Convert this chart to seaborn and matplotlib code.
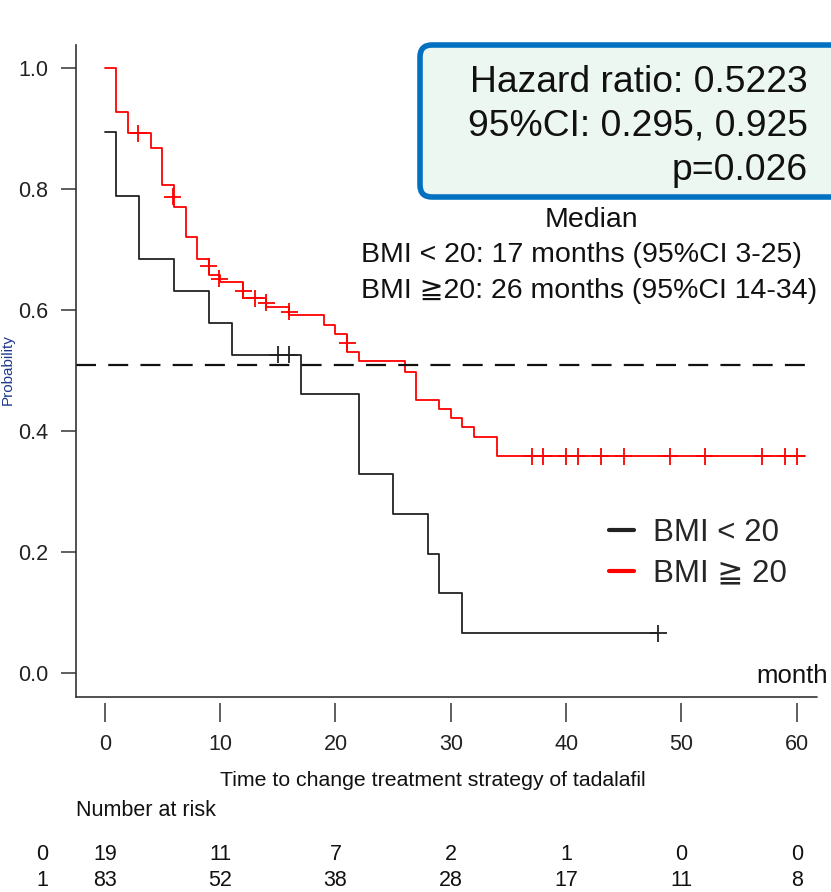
import numpy as np
import pandas as pd
import matplotlib.pyplot as plt
import seaborn as sns
from matplotlib.lines import Line2D
from matplotlib.patches import FancyBboxPatch

# Kaplan-Meier steps
low_time = [0, 1, 3, 6, 9, 11, 17, 22, 25, 28, 29, 31, 48]
low_surv = [0.895, 0.789, 0.684, 0.632, 0.579, 0.526, 0.461, 0.329, 0.263, 0.197, 0.132, 0.066, 0.066]
high_time = [0, 1, 2, 4, 5, 6, 7, 8, 9, 10, 12, 14, 16, 19, 20, 21, 22, 26, 27, 29, 30, 31, 32, 34, 60.7]
high_surv = [1.0, 0.928, 0.892, 0.867, 0.807, 0.771, 0.721, 0.684, 0.658, 0.646, 0.619, 0.605, 0.591,
             0.576, 0.561, 0.531, 0.516, 0.498, 0.452, 0.436, 0.421, 0.406, 0.390, 0.358, 0.358]

# censoring marks
low_cens_t = [15, 16, 48]
low_cens_s = [0.526, 0.526, 0.066]
high_cens_t = [2.9, 5.9, 9, 9.9, 12, 13, 14, 16, 21, 37, 38, 40, 41, 43, 45, 49, 52, 57, 59, 60]
high_cens_s = [0.892, 0.787, 0.672, 0.652, 0.632, 0.619, 0.612, 0.597, 0.545, 0.358, 0.358, 0.358,
               0.358, 0.358, 0.358, 0.358, 0.358, 0.358, 0.358, 0.358]

median_level = 0.509
groups = ['BMI < 20', 'BMI \u2267 20']
colors = {'BMI < 20': '#222222', 'BMI \u2267 20': '#FF0000'}

risk_ticks = [0, 10, 20, 30, 40, 50, 60]
risk_low = [19, 11, 7, 2, 1, 0, 0]
risk_high = [83, 52, 38, 28, 17, 11, 8]

curves = pd.concat([
    pd.DataFrame({'time': low_time, 'surv': low_surv, 'group': groups[0]}),
    pd.DataFrame({'time': high_time, 'surv': high_surv, 'group': groups[1]}),
])
cens = pd.concat([
    pd.DataFrame({'time': low_cens_t, 'surv': low_cens_s, 'group': groups[0]}),
    pd.DataFrame({'time': high_cens_t, 'surv': high_cens_s, 'group': groups[1]}),
])

sns.set_style('ticks')
plt.rcParams['font.family'] = ['Liberation Sans', 'DejaVu Sans', 'Noto Sans CJK JP']

fig = plt.figure(figsize=(8.31, 8.92), dpi=100)
ax = fig.add_axes([76 / 831, 195 / 892, (817 - 76) / 831, (697 - 45) / 892])

sns.lineplot(data=curves, x='time', y='surv', hue='group', palette=colors,
             drawstyle='steps-post', estimator=None, legend=False, linewidth=1.3, ax=ax)
sns.scatterplot(data=cens, x='time', y='surv', hue='group', palette=colors,
                marker='+', s=150, linewidth=1.3, legend=False, ax=ax)
ax.axhline(median_level, color='#111111', linewidth=1.6, dashes=(9, 5.5))

ax.set_xlim(-2.5, 61.75)
ax.set_ylim(-0.0397, 1.038)
ax.set_xticks(risk_ticks)
ax.set_yticks([0.0, 0.2, 0.4, 0.6, 0.8, 1.0])
ax.set_yticklabels(['0.0', '0.2', '0.4', '0.6', '0.8', '1.0'])
ax.set_xlabel('')
ax.set_ylabel('')
for s in ['top', 'right']:
    ax.spines[s].set_visible(False)
ax.spines['left'].set_color('#333333')
ax.spines['left'].set_linewidth(1.2)
ax.spines['bottom'].set_position(('outward', 4.5))
ax.spines['bottom'].set_color('none')
ax.plot([0, 1], [0, 0], transform=ax.transAxes, color='#333333', lw=1.2, clip_on=False)
ax.tick_params(axis='y', direction='out', length=11, width=1.1, color='#333333',
               labelsize=15.5, labelcolor='#222222', pad=9)
ax.tick_params(axis='x', direction='out', length=14, width=1.1, color='#333333',
               labelsize=15.5, labelcolor='#222222', pad=8)

# legend
handles = [Line2D([], [], color=colors[g], lw=3) for g in groups]
fig.legend(handles, groups, loc='center left', bbox_to_anchor=(609 / 831, 1 - 553 / 892),
           frameon=False, fontsize=22.5, handlelength=0.8, handletextpad=0.6,
           labelspacing=0.35, borderpad=0, borderaxespad=0)

# hazard ratio box
box = FancyBboxPatch((4.20, 6.95), 4.6, 1.52, boxstyle='round,pad=0,rounding_size=0.12',
                     transform=fig.dpi_scale_trans, facecolor='#EDF7F2', edgecolor='#0070C0',
                     linewidth=4)
fig.patches.append(box)
for txt, yb in [('Hazard ratio: 0.5223', 92), ('95%CI: 0.295, 0.925', 136), ('p=0.026', 180)]:
    fig.text(808 / 831, 1 - yb / 892, txt, ha='right', va='baseline', fontsize=26.8, color='#111111')

# median text
fig.text(591 / 831, 1 - 227 / 892, 'Median', ha='center', va='baseline', fontsize=20.5, color='#111111')
fig.text(361 / 831, 1 - 262 / 892, 'BMI < 20: 17 months (95%CI 3-25)', ha='left', va='baseline',
         fontsize=20.5, color='#111111')
fig.text(361 / 831, 1 - 298 / 892, 'BMI \u226720: 26 months (95%CI 14-34)', ha='left', va='baseline',
         fontsize=20.5, color='#111111')

fig.text(756 / 831, 1 - 683 / 892, 'month', ha='left', va='baseline', fontsize=18.5, color='#111111')

# y label, squeezed into the left margin
fig.text(1 / 831, 1 - 370 / 892, 'Probability', rotation=90, ha='left', va='center',
         fontsize=11, color='#1F3A8A')

# x label and risk table
fig.text(433 / 831, 1 - 786 / 892, 'Time to change treatment strategy of tadalafil',
         ha='center', va='baseline', fontsize=15.3, color='#111111')
fig.text(76 / 831, 1 - 816 / 892, 'Number at risk', ha='left', va='baseline', fontsize=15.5, color='#111111')

for label, counts, yb in [('0', risk_low, 860), ('1', risk_high, 886)]:
    yf = 1 - yb / 892
    fig.text(42 / 831, yf, label, ha='center', va='baseline', fontsize=15.5, color='#111111')
    for t, n in zip(risk_ticks, counts):
        xf = fig.transFigure.inverted().transform(ax.transData.transform((t, 0)))[0]
        fig.text(xf, yf, str(n), ha='center', va='baseline', fontsize=15.5, color='#111111')

fig.savefig('out.png', dpi=100)
